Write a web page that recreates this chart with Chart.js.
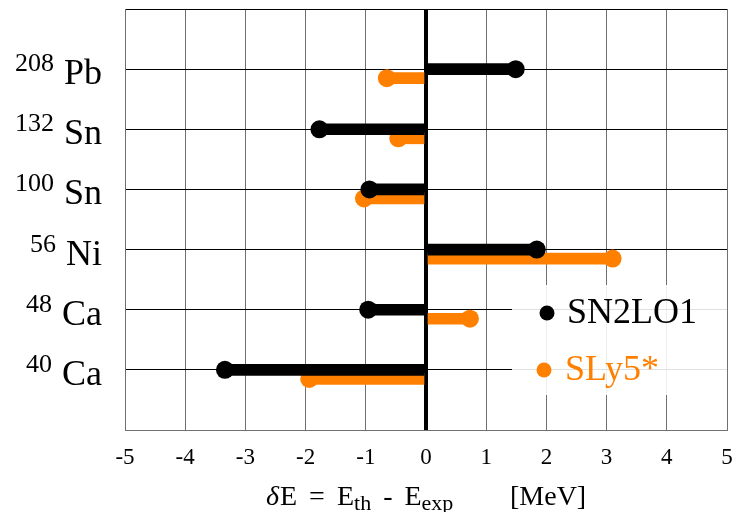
<!DOCTYPE html>
<html>
<head>
<meta charset="utf-8">
<script src="https://cdn.jsdelivr.net/npm/chart.js@4/dist/chart.umd.min.js"></script>
<style>
  html, body { margin: 0; padding: 0; background: #fff; }
  #wrap { width: 736px; height: 512px; }
</style>
</head>
<body>
<div id="wrap"><canvas id="c" width="736" height="512"></canvas></div>
<script>
// Nuclei, listed top to bottom
const elements = ['Pb', 'Sn', 'Sn', 'Ni', 'Ca', 'Ca'];
const massNumbers = ['208', '132', '100', '56', '48', '40'];
// Energy deviation dE = E_th - E_exp in MeV
const sn2lo1 = [1.49, -1.77, -0.94, 1.84, -0.96, -3.34];
const sly5 = [-0.65, -0.46, -1.03, 3.10, 0.73, -1.94];
const seriesNames = ['SN2LO1', 'SLy5*'];

const BLACK = '#000000';
const ORANGE = '#ff8000';
const SERIF = '"Liberation Serif", "Times New Roman", serif';
const ROW_SHIFT = 0.15; // second series sits slightly below each row

const rowOf = i => elements.length - i;

const blackPts = sn2lo1.map((v, i) => ({ x: v, y: rowOf(i) }));
const orangePts = sly5.map((v, i) => ({ x: v, y: rowOf(i) - ROW_SHIFT }));
const blackStems = sn2lo1.map((v, i) => ({ x: [0, v], y: rowOf(i) }));
const orangeStems = sly5.map((v, i) => ({ x: [0, v], y: rowOf(i) - ROW_SHIFT }));

// Isotope labels, legend and axis title
const decorations = {
  id: 'decorations',
  afterDatasetsDraw(chart) {
    const ctx = chart.ctx;
    const ys = chart.scales.y;
    const area = chart.chartArea;
    ctx.save();
    ctx.textBaseline = 'alphabetic';

    // isotope labels
    elements.forEach((el, i) => {
      const py = ys.getPixelForValue(rowOf(i));
      ctx.font = '36px ' + SERIF;
      ctx.fillStyle = '#000';
      ctx.textAlign = 'right';
      const right = area.left - 23;
      ctx.fillText(el, right, py + 15);
      const w = ctx.measureText(el).width;
      ctx.font = '26px ' + SERIF;
      ctx.fillText(massNumbers[i], right - w - 10, py + 2);
    });

    // legend box
    ctx.fillStyle = 'rgba(255,255,255,0.88)';
    ctx.fillRect(512, 285, area.right - 512, 110);
    const items = [
      { name: seriesNames[0], color: BLACK, dx: 547, dy: 313, tx: 567, ty: 323 },
      { name: seriesNames[1], color: ORANGE, dx: 544, dy: 370, tx: 565, ty: 380 }
    ];
    items.forEach(it => {
      ctx.fillStyle = it.color;
      ctx.beginPath();
      ctx.arc(it.dx, it.dy, 7.5, 0, Math.PI * 2);
      ctx.fill();
      ctx.font = '36px ' + SERIF;
      ctx.textAlign = 'left';
      ctx.fillText(it.name, it.tx, it.ty);
    });

    // axis title: δE = E_th - E_exp   [MeV]
    const base = 505;
    const main = '28px ' + SERIF;
    const sub = '22px ' + SERIF;
    // [text, font, gap before, baseline shift]
    const pieces = [
      ['δ', 'italic ' + main, 0, 0],
      ['E', main, 1, 0],
      ['=', main, 12, 0],
      ['E', main, 12, 0],
      ['th', sub, 0, 5],
      ['-', main, 12, 0],
      ['E', main, 12, 0],
      ['exp', sub, 0, 5]
    ];
    let x = 266;
    ctx.fillStyle = '#000';
    ctx.textAlign = 'left';
    pieces.forEach(([txt, font, gap, dy]) => {
      ctx.font = font;
      x += gap;
      ctx.fillText(txt, x, base + dy);
      x += ctx.measureText(txt).width;
    });
    ctx.font = main;
    ctx.fillText('[MeV]', 510, base);
    ctx.restore();
  }
};

new Chart(document.getElementById('c'), {
  data: {
    datasets: [
      {
        type: 'scatter', label: seriesNames[0], data: blackPts, order: 0,
        pointRadius: 9, pointHoverRadius: 9, pointBorderWidth: 0,
        backgroundColor: BLACK, borderColor: BLACK
      },
      {
        type: 'bar', label: seriesNames[0] + ' stem', data: blackStems, order: 1,
        indexAxis: 'y', grouped: false, barThickness: 11,
        backgroundColor: BLACK, borderWidth: 0
      },
      {
        type: 'scatter', label: seriesNames[1], data: orangePts, order: 2,
        pointRadius: 9, pointHoverRadius: 9, pointBorderWidth: 0,
        backgroundColor: ORANGE, borderColor: ORANGE
      },
      {
        type: 'bar', label: seriesNames[1] + ' stem', data: orangeStems, order: 3,
        indexAxis: 'y', grouped: false, barThickness: 11,
        backgroundColor: ORANGE, borderWidth: 0
      }
    ]
  },
  options: {
    responsive: false,
    animation: false,
    events: [],
    layout: { padding: { top: 7, right: 4, left: 0, bottom: 0 } },
    plugins: { legend: { display: false }, tooltip: { enabled: false } },
    scales: {
      x: {
        type: 'linear', min: -5, max: 5, offset: false,
        ticks: {
          stepSize: 1, color: '#000', padding: 14,
          font: { family: SERIF, size: 23 }
        },
        grid: {
          offset: false,
          drawTicks: false,
          color: ctx => ctx.tick && ctx.tick.value === 0 ? '#000' : '#707070',
          lineWidth: ctx => ctx.tick && ctx.tick.value === 0 ? 4 : 1
        },
        border: { color: '#707070', width: 1 },
        afterFit: s => { s.height = 82; s.paddingLeft = 0; s.paddingRight = 0; }
      },
      y: {
        type: 'linear', min: 0, max: 7, offset: false,
        ticks: { stepSize: 1, display: false },
        grid: { offset: false, drawTicks: false, color: '#000', lineWidth: 1 },
        border: { color: '#707070', width: 1 },
        afterFit: s => { s.width = 125; s.paddingTop = 0; s.paddingBottom = 0; }
      }
    }
  },
  plugins: [decorations]
});
</script>
</body>
</html>
